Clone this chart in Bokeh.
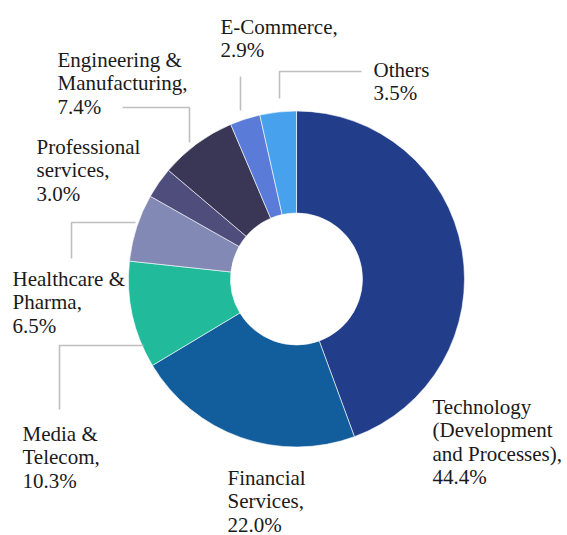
import math
from bokeh.plotting import figure
from bokeh.models import Range1d, ColumnDataSource
from bokeh.core.properties import value
from bokeh.embed import file_html
from bokeh.resources import INLINE

# ---- data ----
categories = ["Technology\n(Development\nand Processes),", "Financial\nServices,", "Media &\nTelecom,",
              "Healthcare &\nPharma,", "Professional\nservices,", "Engineering &\nManufacturing,",
              "E-Commerce,", "Others"]
shares = [44.4, 22.0, 10.3, 6.5, 3.0, 7.4, 2.9, 3.5]
colors = ["#223E8A", "#125D9B", "#21BA9B", "#8289B4", "#4F4D7C", "#393755", "#5B7BD9", "#47A1EC"]

# label anchor (left x, first baseline y) in screen pixels
label_pos = [(432, 413), (227, 484), (22, 440), (12, 285), (36, 153), (57, 66), (220, 33), (373, 76)]
# leader lines in screen pixels
leaders = [
    [(240, 110), (240, 76)],
    [(279, 98), (279, 71), (361, 71)],
    [(189, 142), (189, 107), (122, 107)],
    [(135, 222), (71, 222), (71, 258)],
    [(143, 345), (59, 345), (59, 409)],
]

CX, CY = 296, 278.5
R_OUT, R_IN = 168, 66
W, H = 567, 535
TEXT_SHIFT = 7  # renderer places alphabetic baseline a little low

def sx(x):
    return x - CX

def sy(y):
    return CY - y

p = figure(width=W, height=H, output_backend="svg", toolbar_location=None,
           x_range=Range1d(0 - CX, W - CX), y_range=Range1d(CY - H, CY),
           min_border=0)
p.axis.visible = False
p.grid.visible = False
p.outline_line_color = None
p.background_fill_color = "white"
p.border_fill_color = "white"

total = sum(shares)
starts, ends = [], []
c = 0.0
for v in shares:
    starts.append(math.pi / 2 - 2 * math.pi * c / total)
    c += v
    ends.append(math.pi / 2 - 2 * math.pi * c / total)

src = ColumnDataSource(dict(start=starts, end=ends, color=colors))
p.annular_wedge(x=0, y=0, inner_radius=R_IN, outer_radius=R_OUT, start_angle="start", end_angle="end",
                direction="clock", fill_color="color", line_color="white", line_width=0.6, source=src)

for seg in leaders:
    p.line([sx(a) for a, b in seg], [sy(b) for a, b in seg], line_color="#BFBFBF", line_width=1.6)

LINE_H = 23.5
xs, ys, texts = [], [], []
for cat, v, (lx, ly) in zip(categories, shares, label_pos):
    lines = cat.split("\n") + [f"{v:.1f}%"]
    for i, t in enumerate(lines):
        xs.append(sx(lx))
        ys.append(sy(ly + i * LINE_H - TEXT_SHIFT))
        texts.append(t)

p.text(x=xs, y=ys, text=texts, text_font=value("Liberation Serif"),
       text_font_size="21px", text_color="#1A1A1A", text_align="left", text_baseline="alphabetic")

open("out.html", "w").write(file_html(p, INLINE))
